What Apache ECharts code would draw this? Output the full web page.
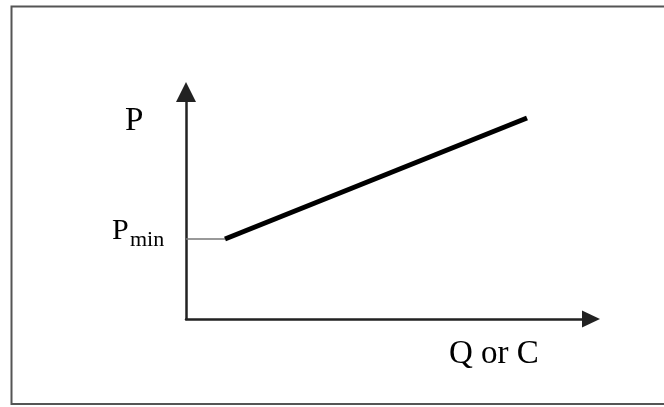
<!DOCTYPE html>
<html>
<head>
<meta charset="utf-8">
<script src="https://cdn.jsdelivr.net/npm/echarts@6/dist/echarts.min.js"></script>
<style>
    html,body{margin:0;padding:0;background:#fff;}
    #chart{width:664px;height:407px;}
</style>
</head>
<body>
<div id="chart"></div>
<script>
// axis domain (units, origin at the axes corner)
var xRange = [0, 405];
var yRange = [0, 227];
// floor price segment and the rising price line
var floorLine = [[0, 80], [39, 80]];
var priceLine = [[39, 80], [341, 201]];
// labels
var yLabel = 'P';
var minLabel = ['P', 'min'];
var xLabel = 'Q or C';

var chart = echarts.init(document.getElementById('chart'));
var serif = '"Liberation Serif", "DejaVu Serif", serif';

chart.setOption({
    animation: false,
    backgroundColor: '#fff',
    grid: { left: 186, right: 73, top: 92, bottom: 88 },
    xAxis: {
        type: 'value', min: xRange[0], max: xRange[1],
        splitLine: { show: false }, axisTick: { show: false }, axisLabel: { show: false },
        axisLine: {
            show: true, symbol: ['none', 'triangle'], symbolSize: [17, 18],
            lineStyle: { color: '#222', width: 2.5 }
        }
    },
    yAxis: {
        type: 'value', min: yRange[0], max: yRange[1],
        splitLine: { show: false }, axisTick: { show: false }, axisLabel: { show: false },
        axisLine: {
            show: true, symbol: ['none', 'triangle'], symbolSize: [20, 20],
            lineStyle: { color: '#222', width: 2.5 }
        }
    },
    series: [
        {
            type: 'line', data: floorLine, showSymbol: false, silent: true,
            lineStyle: { color: '#777', width: 1.5 }
        },
        {
            type: 'line', data: priceLine, showSymbol: false, silent: true,
            lineStyle: { color: '#000', width: 5 }
        }
    ],
    graphic: [
        {
            type: 'rect', silent: true,
            shape: { x: 11.5, y: 6.5, width: 720, height: 397.5 },
            style: { fill: 'none', stroke: '#555', lineWidth: 2 }
        },
        {
            type: 'text', left: 125, top: 105,
            style: { text: yLabel, font: '33px ' + serif, fill: '#000' }
        },
        {
            type: 'text', left: 112, top: 216,
            style: { text: minLabel[0], font: '30px ' + serif, fill: '#000' }
        },
        {
            type: 'text', left: 130, top: 229,
            style: { text: minLabel[1], font: '22px ' + serif, fill: '#000' }
        },
        {
            type: 'text', left: 449, top: 338,
            style: { text: xLabel, font: '33px ' + serif, fill: '#000' }
        }
    ]
});
</script>
</body>
</html>
